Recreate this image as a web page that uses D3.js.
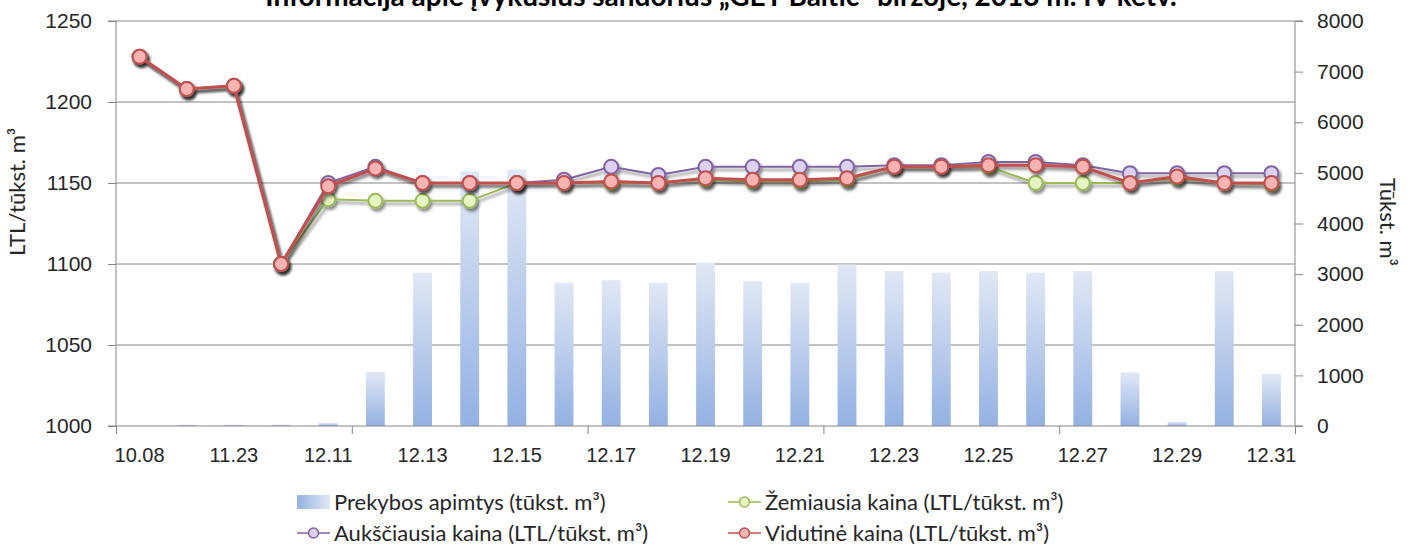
<!DOCTYPE html>
<html>
<head>
<meta charset="utf-8">
<script src="https://cdn.jsdelivr.net/npm/d3@7"></script>
<style>
  body { margin: 0; background: #fff; }
  svg { display: block; font-family: Lato, "Open Sans", sans-serif; }
</style>
</head>
<body>
<div class="canvas"></div>
<script>
/* ----------- DATA ----------- */
const dates = ['10.08', '11.06', '11.23', '12.03', '12.11', '12.12', '12.13', '12.14', '12.15', '12.16',
    '12.17', '12.18', '12.19', '12.20', '12.21', '12.22', '12.23', '12.24', '12.25', '12.26',
    '12.27', '12.28', '12.29', '12.30', '12.31'];
const volume = [0, 25, 25, 25, 60, 1070, 3030, 5030, 5060, 2830, 2880, 2830, 3230, 2860, 2830,
    3190, 3060, 3030, 3060, 3030, 3060, 1060, 80, 3060, 1030];
const lowest = [1228, 1208, 1210, 1100, 1140, 1139, 1139, 1139, 1150, 1150, 1150, 1150, 1152,
    1151, 1151, 1152, 1160, 1160, 1160, 1150, 1150, 1150, 1153, 1150, 1149];
const highest = [1228, 1208, 1210, 1100, 1150, 1160, 1150, 1150, 1150, 1152, 1160, 1155, 1160,
    1160, 1160, 1160, 1161, 1161, 1163, 1163, 1161, 1156, 1156, 1156, 1156];
const average = [1228, 1208, 1210, 1100, 1148, 1159, 1150, 1150, 1150, 1150, 1151, 1150, 1153,
    1152, 1152, 1153, 1160, 1160, 1161, 1161, 1160, 1150, 1154, 1150, 1150];
const leftTicks = [1000, 1050, 1100, 1150, 1200, 1250];
const rightTicks = [0, 1000, 2000, 3000, 4000, 5000, 6000, 7000, 8000];

const title = 'Informacija apie įvykusius sandorius „GET Baltic“ biržoje, 2013 m. IV ketv.';
const legendNames = ['Prekybos apimtys (tūkst. m³)', 'Žemiausia kaina (LTL/tūkst. m³)',
    'Aukščiausia kaina (LTL/tūkst. m³)', 'Vidutinė kaina (LTL/tūkst. m³)'];

/* ----------- CONTAINER ----------- */
const width = 1413, height = 549;
const plot = { left: 116, right: 1295, top: 21, bottom: 426 };
const axisColor = '#868686';
const textColor = '#262626';

const svg = d3.select('.canvas')
    .append('svg')
    .attr('width', width)
    .attr('height', height);

const defs = svg.append('defs');

// bar gradient, light at the top, blue at the base
const barGrad = defs.append('linearGradient')
    .attr('id', 'barGrad')
    .attr('x1', 0).attr('y1', 0).attr('x2', 0).attr('y2', 1);
barGrad.append('stop').attr('offset', '0%').attr('stop-color', '#e1e8f5');
barGrad.append('stop').attr('offset', '100%').attr('stop-color', '#93b1e2');

const legendGrad = defs.append('linearGradient')
    .attr('id', 'legendGrad')
    .attr('x1', 0).attr('y1', 0).attr('x2', 1).attr('y2', 0);
legendGrad.append('stop').attr('offset', '0%').attr('stop-color', '#93b1e2');
legendGrad.append('stop').attr('offset', '100%').attr('stop-color', '#e1e8f5');

const shadow = defs.append('filter')
    .attr('id', 'shadow')
    .attr('x', '-50%').attr('y', '-50%').attr('width', '200%').attr('height', '200%');
shadow.append('feDropShadow')
    .attr('dx', 2).attr('dy', 3)
    .attr('stdDeviation', 1.8)
    .attr('flood-color', '#000')
    .attr('flood-opacity', 0.45);

/* ----------- SCALES & AXES ----------- */
const x = d3.scaleBand()
    .domain(dates)
    .range([plot.left, plot.right])
    .paddingInner(0.6)
    .paddingOuter(0.3);

const xEdge = d3.scaleLinear()
    .domain([0, dates.length])
    .range([plot.left, plot.right]);

const yPrice = d3.scaleLinear()
    .domain([1000, 1250])
    .range([plot.bottom, plot.top]);

const yVol = d3.scaleLinear()
    .domain([0, 8000])
    .range([plot.bottom, plot.top]);

const cx = d => x(d) + x.bandwidth() / 2;

// horizontal grid lines
svg.append('g')
    .selectAll('line')
    .data(leftTicks.slice(1))
    .enter()
    .append('line')
    .attr('x1', plot.left).attr('x2', plot.right)
    .attr('y1', d => yPrice(d)).attr('y2', d => yPrice(d))
    .attr('stroke', axisColor)
    .attr('stroke-width', 1);

/* ----------- BARS ----------- */
svg.append('g')
    .selectAll('rect')
    .data(dates)
    .enter()
    .append('rect')
    .attr('x', d => x(d))
    .attr('width', x.bandwidth())
    .attr('y', (d, i) => yVol(volume[i]))
    .attr('height', (d, i) => plot.bottom - yVol(volume[i]))
    .attr('fill', 'url(#barGrad)');

// axes
const leftAxis = d3.axisLeft(yPrice)
    .tickValues(leftTicks).tickFormat(d3.format('d'))
    .tickSize(8).tickPadding(16);
const rightAxis = d3.axisRight(yVol)
    .tickValues(rightTicks).tickFormat(d3.format('d'))
    .tickSize(8).tickPadding(14);
const bottomLabels = d3.axisBottom(x)
    .tickValues(dates.filter((d, i) => i % 2 === 0))
    .tickSize(0).tickPadding(22);
const bottomTicks = d3.axisBottom(xEdge)
    .tickValues([0, 5, 10, 15, 20, 25])
    .tickSize(8).tickFormat('');

const styleAxis = size => g => {
    g.selectAll('path, line').attr('stroke', axisColor);
    g.selectAll('text')
        .attr('fill', textColor)
        .style('font-size', size + 'px');
};

svg.append('g')
    .attr('transform', `translate(${plot.left},0)`)
    .call(leftAxis)
    .call(g => g.select('.domain').attr('d', `M-8,${plot.top}H0V${plot.bottom}H-8`))
    .call(styleAxis(21));

svg.append('g')
    .attr('transform', `translate(${plot.right},0)`)
    .call(rightAxis)
    .call(g => g.select('.domain').attr('d', `M8,${plot.top}H0V${plot.bottom}H8`))
    .call(styleAxis(21));

svg.append('g')
    .attr('transform', `translate(0,${plot.bottom})`)
    .call(bottomLabels)
    .call(g => g.select('.domain').remove())
    .call(styleAxis(20));

svg.append('g')
    .attr('transform', `translate(0,${plot.bottom})`)
    .call(bottomTicks)
    .call(g => g.select('.domain').attr('d', `M${plot.left},0H${plot.right}`))
    .call(styleAxis(20));

/* ----------- LINES ----------- */
const series = [
    { values: lowest, stroke: '#9bbb59', fill: '#e6f6c2', width: 2 },
    { values: highest, stroke: '#8064a2', fill: '#dcd1f0', width: 2 },
    { values: average, stroke: '#c0504d', fill: '#f8b3b3', width: 3 }
];

const line = d3.line()
    .x(d => cx(d.date))
    .y(d => yPrice(d.value));

series.forEach(s => {
    const pts = dates.map((d, i) => ({ date: d, value: s.values[i] }));
    const g = svg.append('g').attr('filter', 'url(#shadow)');

    g.append('path')
        .datum(pts)
        .attr('d', line)
        .attr('fill', 'none')
        .attr('stroke', s.stroke)
        .attr('stroke-width', s.width)
        .attr('stroke-linejoin', 'round');

    g.selectAll('circle')
        .data(pts)
        .enter()
        .append('circle')
        .attr('cx', d => cx(d.date))
        .attr('cy', d => yPrice(d.value))
        .attr('r', 7)
        .attr('fill', s.fill)
        .attr('stroke', s.stroke)
        .attr('stroke-width', 2);
});

/* ----------- TEXT ----------- */
svg.append('text')
    .attr('x', 721).attr('y', 6)
    .attr('text-anchor', 'middle')
    .attr('fill', '#000')
    .style('font-size', '28px')
    .style('font-weight', 'bold')
    .text(title);

svg.append('text')
    .attr('transform', 'translate(25,192) rotate(-90)')
    .attr('text-anchor', 'middle')
    .attr('fill', textColor)
    .style('font-size', '22px')
    .text('LTL/tūkst. m³');

svg.append('text')
    .attr('transform', 'translate(1380,222) rotate(90)')
    .attr('text-anchor', 'middle')
    .attr('fill', textColor)
    .style('font-size', '22px')
    .text('Tūkst. m³');

/* ----------- LEGEND ----------- */
const legendPos = [[297, 502], [728, 502], [297, 533], [728, 533]];
const legend = svg.append('g');

legend.append('rect')
    .attr('x', legendPos[0][0]).attr('y', legendPos[0][1] - 7)
    .attr('width', 33).attr('height', 14)
    .attr('fill', 'url(#legendGrad)');

series.forEach((s, i) => {
    const [lx, ly] = legendPos[i + 1];
    legend.append('line')
        .attr('x1', lx).attr('x2', lx + 33)
        .attr('y1', ly).attr('y2', ly)
        .attr('stroke', s.stroke)
        .attr('stroke-width', 1.5);
    legend.append('circle')
        .attr('cx', lx + 16.5).attr('cy', ly)
        .attr('r', 5)
        .attr('fill', s.fill)
        .attr('stroke', s.stroke)
        .attr('stroke-width', 1.5);
});

legend.selectAll('text')
    .data(legendNames)
    .enter()
    .append('text')
    .attr('x', (d, i) => legendPos[i][0] + 37)
    .attr('y', (d, i) => legendPos[i][1])
    .attr('dy', '0.35em')
    .attr('fill', textColor)
    .style('font-size', '22px')
    .text(d => d);
</script>
</body>
</html>
